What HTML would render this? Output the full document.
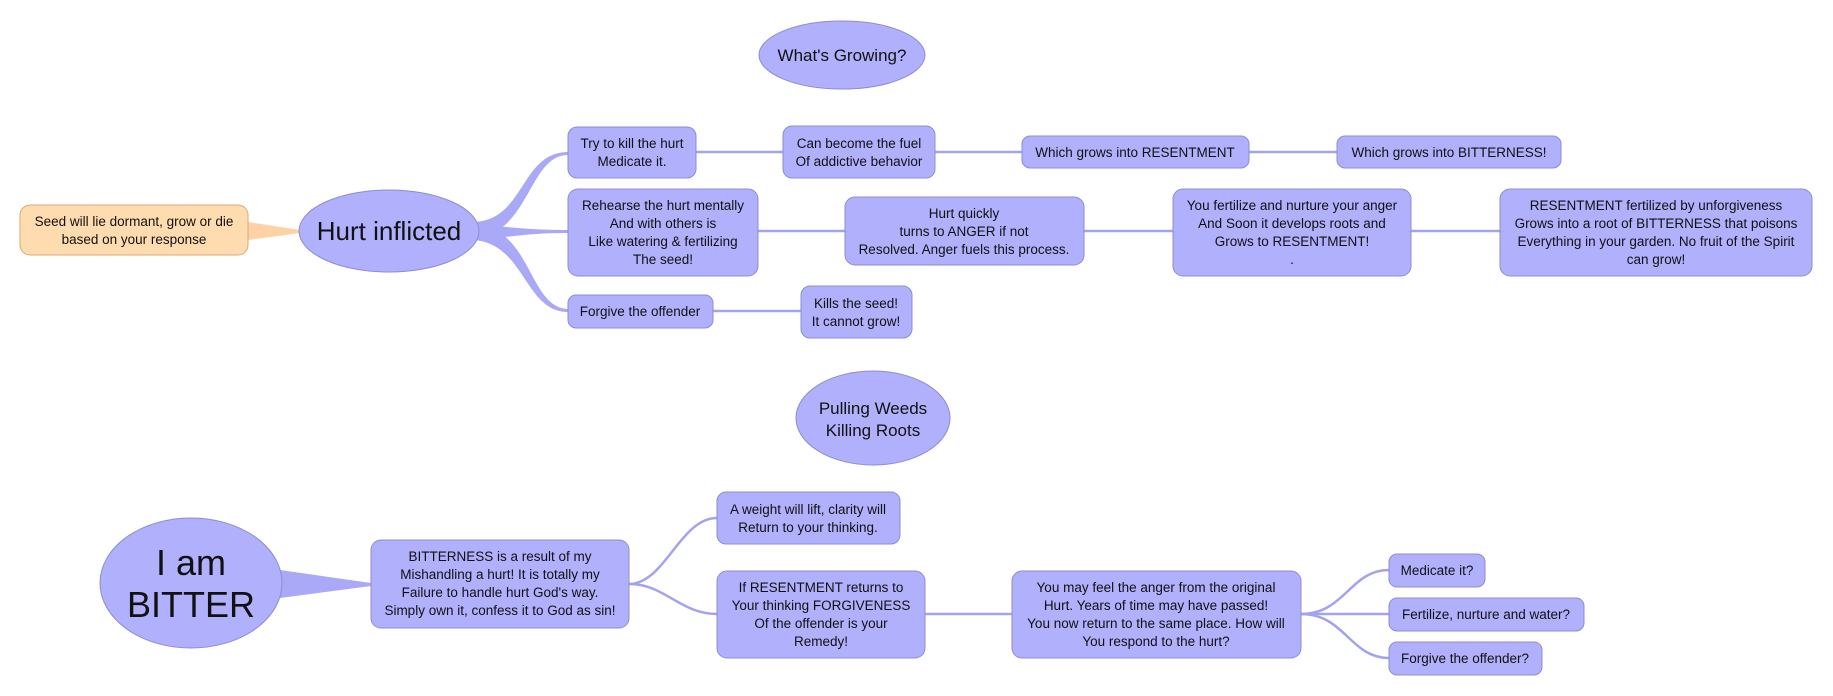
<!DOCTYPE html>
<html><head><meta charset="utf-8"><style>
html,body{margin:0;padding:0;background:#fff;}
svg{display:block}
text{font-family:"Liberation Sans",sans-serif;font-size:13.5px;fill:#111;text-anchor:middle}
.b{fill:#b0b0fc;stroke:#8c8cd6;stroke-width:1}
.l{stroke:#a3a3ef;stroke-width:2.5;fill:none}
.f{fill:#a9a9f8}
</style></head><body>
<svg width="1833" height="696" viewBox="0 0 1833 696" xmlns="http://www.w3.org/2000/svg">
<!-- connectors top -->
<path class="f" d="M248,222 L300,230 L300,233 L248,240 Z" fill="#ffd0a0" style="fill:#ffd2a6"/>
<path class="f" d="M472,222 C525,222 520,152 568,152 L568,155 C528,155 530,236 472,238 Z"/>
<path class="f" d="M472,224 C520,228 530,230 568,230 L568,233 C530,233 520,236 472,240 Z"/>
<path class="f" d="M472,224 C532,226 528,308 568,309 L568,312 C524,312 525,242 472,240 Z"/>
<path class="l" d="M696,152 H783"/>
<path class="l" d="M935,152 H1022"/>
<path class="l" d="M1249,152 H1337"/>
<path class="l" d="M758,231 H845"/>
<path class="l" d="M1084,231 H1173"/>
<path class="l" d="M1411,231 H1500"/>
<path class="l" d="M713,311 H801"/>
<!-- connectors bottom -->
<path class="f" d="M280,570 L371,583 L371,586 L280,598 Z"/>
<path class="l" d="M629,584 C665,584 680,518 717,518"/>
<path class="l" d="M629,584 C665,584 680,614 717,614"/>
<path class="l" d="M925,614 H1012"/>
<path class="l" d="M1301,614 C1345,614 1350,570 1389,570"/>
<path class="l" d="M1301,614 H1389"/>
<path class="l" d="M1301,614 C1345,614 1350,658 1389,658"/>
<!-- ellipses -->
<ellipse class="b" cx="842" cy="55" rx="83" ry="34"/>
<text x="842" y="61" style="font-size:17px">What's Growing?</text>
<ellipse class="b" cx="389" cy="231" rx="90" ry="41"/>
<text x="389" y="240" style="font-size:26px">Hurt inflicted</text>
<ellipse class="b" cx="873" cy="418" rx="77" ry="47"/>
<text x="873" y="414" style="font-size:17px">Pulling Weeds</text>
<text x="873" y="436" style="font-size:17px">Killing Roots</text>
<ellipse class="b" cx="191" cy="583" rx="91" ry="65"/>
<text x="191" y="575" style="font-size:36px">I am</text>
<text x="191" y="617" style="font-size:36px">BITTER</text>
<!-- seed -->
<rect x="20" y="205" width="228" height="50" rx="10" fill="#ffdcb0" stroke="#d8aa74"/>
<text x="134" y="226">Seed will lie dormant, grow or die</text>
<text x="134" y="244">based on your response</text>
<!-- top boxes -->
<rect class="b" x="568" y="127" width="128" height="51" rx="9"/>
<text x="632" y="148">Try to kill the hurt</text><text x="632" y="166">Medicate it.</text>
<rect class="b" x="783" y="126" width="152" height="52" rx="9"/>
<text x="859" y="148">Can become the fuel</text><text x="859" y="166">Of addictive behavior</text>
<rect class="b" x="1022" y="136" width="227" height="32" rx="8"/>
<text x="1135" y="157">Which grows into RESENTMENT</text>
<rect class="b" x="1337" y="136" width="224" height="32" rx="8"/>
<text x="1449" y="157">Which grows into BITTERNESS!</text>
<rect class="b" x="568" y="189" width="190" height="87" rx="10"/>
<text x="663" y="210">Rehearse the hurt mentally</text><text x="663" y="228">And with others is</text><text x="663" y="246">Like watering &amp; fertilizing</text><text x="663" y="264">The seed!</text>
<rect class="b" x="845" y="197" width="239" height="68" rx="10"/>
<text x="964" y="218">Hurt quickly</text><text x="964" y="236">turns to ANGER if not</text><text x="964" y="254">Resolved. Anger fuels this process.</text>
<rect class="b" x="1173" y="189" width="238" height="87" rx="10"/>
<text x="1292" y="210">You fertilize and nurture your anger</text><text x="1292" y="228">And Soon it develops roots and</text><text x="1292" y="246">Grows to RESENTMENT!</text><text x="1292" y="264">.</text>
<rect class="b" x="1500" y="189" width="312" height="87" rx="10"/>
<text x="1656" y="210">RESENTMENT fertilized by unforgiveness</text><text x="1656" y="228">Grows into a root of BITTERNESS that poisons</text><text x="1656" y="246">Everything in your garden. No fruit of the Spirit</text><text x="1656" y="264">can grow!</text>
<rect class="b" x="568" y="295" width="145" height="33" rx="8"/>
<text x="640" y="316">Forgive the offender</text>
<rect class="b" x="801" y="286" width="111" height="52" rx="9"/>
<text x="856" y="308">Kills the seed!</text><text x="856" y="326">It cannot grow!</text>
<!-- bottom boxes -->
<rect class="b" x="371" y="540" width="258" height="88" rx="10"/>
<text x="500" y="561">BITTERNESS is a result of my</text><text x="500" y="579">Mishandling a hurt! It is totally my</text><text x="500" y="597">Failure to handle hurt God's way.</text><text x="500" y="615">Simply own it, confess it to God as sin!</text>
<rect class="b" x="717" y="492" width="183" height="52" rx="9"/>
<text x="808" y="514">A weight will lift, clarity will</text><text x="808" y="532">Return to your thinking.</text>
<rect class="b" x="717" y="571" width="208" height="87" rx="10"/>
<text x="821" y="592">If RESENTMENT returns to</text><text x="821" y="610">Your thinking FORGIVENESS</text><text x="821" y="628">Of the offender is your</text><text x="821" y="646">Remedy!</text>
<rect class="b" x="1012" y="571" width="289" height="87" rx="10"/>
<text x="1156" y="592">You may feel the anger from the original</text><text x="1156" y="610">Hurt. Years of time may have passed!</text><text x="1156" y="628">You now return to the same place. How will</text><text x="1156" y="646">You respond to the hurt?</text>
<rect class="b" x="1389" y="554" width="96" height="33" rx="8"/>
<text x="1437" y="575">Medicate it?</text>
<rect class="b" x="1389" y="598" width="195" height="33" rx="8"/>
<text x="1486" y="619">Fertilize, nurture and water?</text>
<rect class="b" x="1389" y="642" width="153" height="33" rx="8"/>
<text x="1465" y="663">Forgive the offender?</text>
</svg>
</body></html>
